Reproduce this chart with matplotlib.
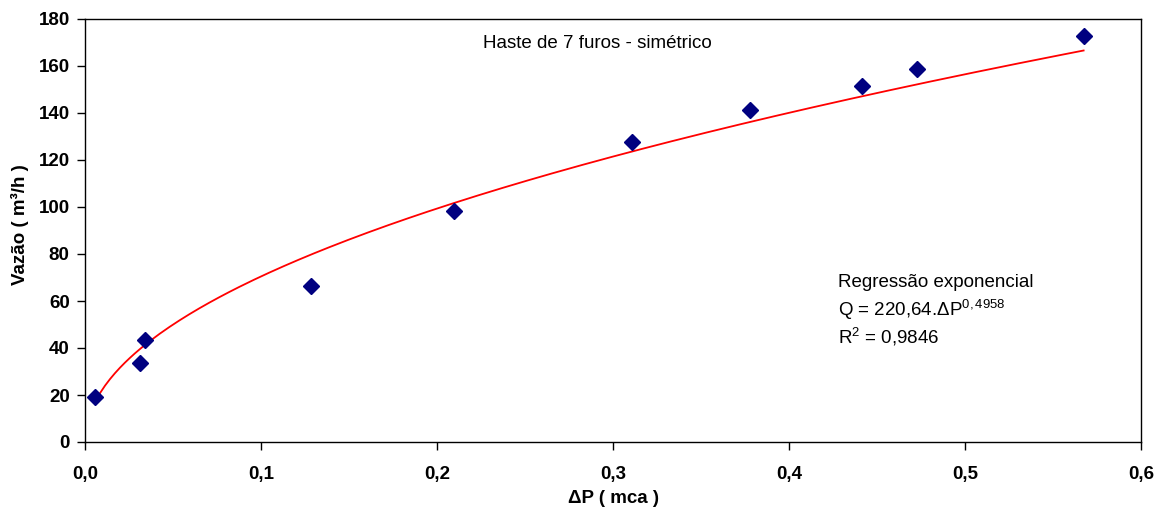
import numpy as np
import matplotlib
matplotlib.use("Agg")
import matplotlib.pyplot as plt

plt.rcParams['font.family'] = ['Liberation Sans', 'DejaVu Sans']
plt.rcParams['mathtext.fontset'] = 'custom'
plt.rcParams['mathtext.rm'] = 'Liberation Sans'
plt.rcParams['mathtext.it'] = 'Liberation Sans'
plt.rcParams['mathtext.bf'] = 'Liberation Sans:bold'

# measured points
dp = [0.0057, 0.031, 0.034, 0.1286, 0.2097, 0.311, 0.378, 0.4417, 0.4726, 0.5674]
vazao = [19.2, 33.7, 43.5, 66.5, 98.5, 127.5, 141.2, 151.5, 158.7, 172.8]

# trendline parameters (as printed on the chart)
coef_a = 220.64
coef_b = 0.4958

x_ticks = [0.0, 0.1, 0.2, 0.3, 0.4, 0.5, 0.6]
x_ticklabels = ['0,0', '0,1', '0,2', '0,3', '0,4', '0,5', '0,6']
y_ticks = list(range(0, 181, 20))

fig = plt.figure(figsize=(11.63, 5.13), dpi=100)
ax = fig.add_axes([85 / 1163, 71 / 513, (1141 - 85) / 1163, (443 - 20) / 513])

xfit = np.linspace(min(dp), max(dp), 200)
ax.plot(xfit, coef_a * xfit ** coef_b, color='red', lw=1.3, zorder=2)
ax.plot(dp, vazao, linestyle='none', marker='D', color='#000080',
        markersize=8.5, zorder=3)

ax.set_xlim(0, 0.6)
ax.set_ylim(0, 180)
ax.set_xticks(x_ticks)
ax.set_xticklabels(x_ticklabels)
ax.set_yticks(y_ticks)
ax.tick_params(direction='out', length=6, width=1, labelsize=13.5)
ax.tick_params(axis='x', pad=11)
ax.tick_params(axis='y', pad=5)
for lab in ax.get_xticklabels() + ax.get_yticklabels():
    lab.set_fontweight('bold')

for s in ax.spines.values():
    s.set_linewidth(1)

ax.set_xlabel('ΔP ( mca )', fontsize=13.5, fontweight='bold', labelpad=5)
ax.set_ylabel('Vazão ( m³/h )', fontsize=13.5, fontweight='bold')
ax.yaxis.set_label_coords(-0.053, 0.513)

ax.text(0.291, 169.5, 'Haste de 7 furos - simétrico', fontsize=13.5, ha='center', va='center')
ax.text(0.428, 68, 'Regressão exponencial', fontsize=13.5, ha='left', va='center')
ax.text(0.428, 56, 'Q = 220,64.ΔP$^{0,4958}$', fontsize=13.5, ha='left', va='center')
ax.text(0.428, 44.5, 'R$^{2}$ = 0,9846', fontsize=13.5, ha='left', va='center')

fig.savefig('out.png', dpi=100)
